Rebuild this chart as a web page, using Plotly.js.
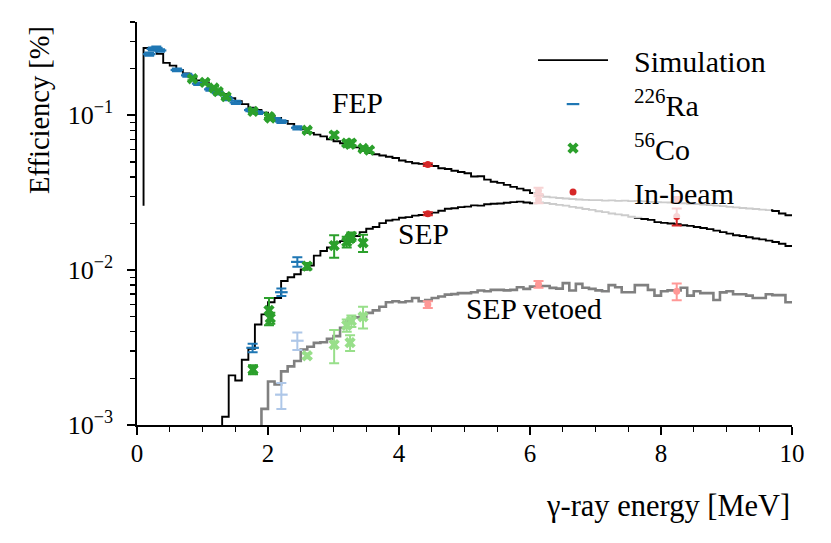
<!DOCTYPE html>
<html>
<head>
<meta charset="utf-8">
<script src="https://cdn.plot.ly/plotly-3.0.1.min.js"></script>
<style>
  html, body { margin: 0; padding: 0; background: #fff; }
  #chart { width: 831px; height: 543px; }
</style>
</head>
<body>
<div id="chart"></div>
<script>
// simulated histograms, 0.1 MeV bins, values in percent
const binWidth = 0.1;

const fepStart = 0.1;
const fepFloor = 0.026;
const simFep = [
  0.272, 0.272, 0.249, 0.218, 0.209, 0.196, 0.186, 0.176, 0.168, 0.161,
  0.152, 0.145, 0.137, 0.129, 0.123, 0.118, 0.112, 0.108, 0.104, 0.099,
  0.096, 0.092, 0.088, 0.084, 0.081, 0.077, 0.075, 0.073, 0.070, 0.068,
  0.066, 0.064, 0.062, 0.059, 0.057, 0.056, 0.055, 0.054, 0.053, 0.051,
  0.050, 0.049, 0.0485, 0.048, 0.047, 0.0455, 0.045, 0.0438, 0.0430, 0.0422,
  0.0402, 0.0404, 0.0384, 0.0372, 0.0366, 0.0355, 0.0345, 0.0336, 0.0328, 0.0315,
  0.0305, 0.0298, 0.0295, 0.0292, 0.0290, 0.0288, 0.0286, 0.0284, 0.0283, 0.0283,
  0.0281, 0.0282, 0.0280, 0.0281, 0.0279, 0.0280, 0.0278, 0.0276, 0.0275, 0.0274,
  0.0273, 0.0272, 0.0270, 0.0268, 0.0267, 0.0265, 0.0263, 0.0261, 0.0259, 0.0256,
  0.0254, 0.0252, 0.0250, 0.0248, 0.0246, 0.0244, 0.0241, 0.0232, 0.0226
];

const sepStart = 1.3;
const simSep = [
  0.00113, 0.00209, 0.00194, 0.00264, 0.0031, 0.00446, 0.00518,
  0.0062, 0.0066, 0.0085, 0.0090, 0.0094, 0.0101, 0.0107, 0.0124, 0.0133, 0.0140,
  0.0151, 0.0154, 0.0163, 0.0166, 0.0176, 0.0185, 0.0190, 0.0201, 0.0209, 0.0212,
  0.0218, 0.0220, 0.0225, 0.0227, 0.0231, 0.0235, 0.0242, 0.0249, 0.0251, 0.0255,
  0.0257, 0.0262, 0.0261, 0.0266, 0.0268, 0.0269, 0.0272, 0.0275, 0.0277, 0.0273,
  0.0270, 0.0273, 0.0271, 0.0267, 0.0264, 0.0261, 0.0256, 0.0253, 0.0248, 0.0245,
  0.0240, 0.0237, 0.0232, 0.0229, 0.0226, 0.0221, 0.0218, 0.0214, 0.0211, 0.0204,
  0.0202, 0.0200, 0.0198, 0.0195, 0.0193, 0.0190, 0.0187, 0.0184, 0.0180, 0.0176,
  0.0172, 0.0168, 0.0166, 0.0163, 0.0160, 0.0158, 0.0155, 0.0152, 0.0148, 0.0143
];

const vetoStart = 1.9;
const simSepVeto = [
  0.00127,
  0.00191, 0.00183, 0.00222, 0.00239, 0.00259, 0.00307, 0.00320, 0.00339, 0.00342, 0.00360,
  0.00375, 0.00425, 0.00469, 0.00495, 0.00500, 0.00530, 0.00550, 0.00580, 0.00620, 0.00630,
  0.00620, 0.00630, 0.00660, 0.00630, 0.00640, 0.00660, 0.00675, 0.00695, 0.00700, 0.00710,
  0.00710, 0.00720, 0.00738, 0.00730, 0.00745, 0.00745, 0.00740, 0.00745, 0.00776, 0.00757,
  0.00783, 0.00790, 0.00790, 0.00768, 0.00760, 0.00824, 0.00738, 0.00815, 0.00770, 0.00757,
  0.00740, 0.00730, 0.00800, 0.00776, 0.00720, 0.00720, 0.00800, 0.00800, 0.00745, 0.00684,
  0.00730, 0.00740, 0.00740, 0.00770, 0.00684, 0.00730, 0.00710, 0.00710, 0.00642, 0.00718,
  0.00730, 0.00698, 0.00698, 0.00684, 0.00660, 0.00660, 0.00698, 0.00690, 0.00690, 0.00620
];

// 226Ra source
const raFepE = [0.186, 0.242, 0.295, 0.352, 0.609, 0.768, 0.934, 1.120, 1.238, 1.378, 1.509, 1.730, 1.765, 1.847, 2.119, 2.204, 2.448];
const raFepEff = [0.248, 0.268, 0.272, 0.262, 0.196, 0.181, 0.160, 0.147, 0.139, 0.128, 0.121, 0.108, 0.107, 0.104, 0.094, 0.091, 0.083];
const raFepErr = [0.006, 0.006, 0.006, 0.005, 0.004, 0.004, 0.003, 0.003, 0.003, 0.003, 0.003, 0.002, 0.002, 0.002, 0.002, 0.002, 0.002];
const raSepE = [1.765, 2.204, 2.448];
const raSepEff = [0.00315, 0.0072, 0.0113];
const raSepErr = [0.0002, 0.0004, 0.0008];
const raVetoE = [2.204, 2.448];
const raVetoEff = [0.00157, 0.0035];
const raVetoErr = [0.0003, 0.00045];

// 56Co source
const coFepE = [0.847, 1.038, 1.175, 1.238, 1.360, 1.771, 2.015, 2.035, 2.598, 3.010, 3.202, 3.253, 3.273, 3.451, 3.548];
const coFepEff = [0.172, 0.163, 0.150, 0.142, 0.132, 0.106, 0.098, 0.096, 0.080, 0.0745, 0.066, 0.065, 0.066, 0.061, 0.0595];
const coFepErr = [0.004, 0.004, 0.003, 0.003, 0.003, 0.002, 0.002, 0.002, 0.002, 0.003, 0.002, 0.002, 0.002, 0.002, 0.002];
const coSepE = [1.771, 2.015, 2.035, 2.598, 3.010, 3.202, 3.253, 3.273, 3.451];
const coSepEff = [0.00228, 0.0055, 0.0049, 0.0106, 0.0144, 0.0152, 0.0160, 0.0165, 0.0150];
const coSepErr = [0.00015, 0.0011, 0.0004, 0.0005, 0.0024, 0.0012, 0.0008, 0.0010, 0.0019];
const coVetoE = [2.598, 3.010, 3.202, 3.253, 3.273, 3.451];
const coVetoEff = [0.0028, 0.0033, 0.0044, 0.0034, 0.0047, 0.0050];
const coVetoErr = [0.0001, 0.0008, 0.0004, 0.0004, 0.0004, 0.0008];

// in-beam lines
const beamE = [4.44, 6.13, 8.24];
const beamFepEff = [0.048, 0.0325, 0.0285];
const beamFepErr = [0.001, 0.0015, 0.0012];
const beamSepEff = [0.0231, 0.0285, 0.0222];
const beamSepErr = [0.0005, 0.0015, 0.0028];
const beamVetoEff = [0.0060, 0.0081, 0.0073];
const beamVetoErr = [0.0003, 0.0004, 0.0009];

const FONT = "'Liberation Serif', 'DejaVu Serif', serif";
const C = {
  blue: '#1f77b4', lblue: '#aec7e8',
  green: '#2ca02c', lgreen: '#98df8a',
  red: '#d62728', lred: '#ff9896'
};
// gap between legend handle and label
const GAP = '\u2002\u2009';

function stepTrace(start, values, floor, color, width, name, show) {
  const x = [], y = [];
  x.push(start); y.push(floor);
  values.forEach((v, i) => { x.push(start + i * binWidth); y.push(v); });
  x.push(start + values.length * binWidth); y.push(values[values.length - 1]);
  return {
    x, y, mode: 'lines', type: 'scatter',
    line: { shape: 'hv', color, width },
    name, showlegend: show, legendrank: 1, legendgroup: 'sim',
    hoverinfo: 'skip'
  };
}

function points(E, eff, err, color, symbol, size, name, show, rank) {
  const filled = symbol === 'circle' || symbol === 'x';
  return {
    x: E, y: eff, type: 'scatter', mode: 'markers',
    error_y: { type: 'data', array: err, color, thickness: 2, width: 5 },
    marker: {
      symbol, size, color,
      line: { color, width: filled ? 0 : 2.2 }
    },
    name, showlegend: show, legendrank: rank, legendgroup: 'g' + rank
  };
}

const traces = [
  stepTrace(fepStart, simFep, fepFloor, '#000', 1.9, GAP + 'Simulation', true),
  stepTrace(sepStart, simSep, 0.0005, '#000', 1.9, 'Simulation', false),
  stepTrace(vetoStart, simSepVeto, 0.0005, '#808080', 2.6, 'Simulation', false),

  points(raVetoE, raVetoEff, raVetoErr, C.lblue, 'line-ew-open', 9, 'ra', false, 2),
  points(coVetoE, coVetoEff, coVetoErr, C.lgreen, 'x', 10, 'co', false, 3),
  points(beamE, beamVetoEff, beamVetoErr, C.lred, 'circle', 7, 'beam', false, 4),

  points(raFepE, raFepEff, raFepErr, C.blue, 'line-ew-open', 9, GAP + '<sup>226</sup>Ra', true, 2),
  points(raSepE, raSepEff, raSepErr, C.blue, 'line-ew-open', 9, 'Ra', false, 2),
  points(coFepE, coFepEff, coFepErr, C.green, 'x', 10, GAP + '<sup>56</sup>Co', true, 3),
  points(coSepE, coSepEff, coSepErr, C.green, 'x', 10, 'Co', false, 3),
  points(beamE, beamFepEff, beamFepErr, C.red, 'circle', 7, GAP + 'In-beam', true, 4),
  points(beamE, beamSepEff, beamSepErr, C.red, 'circle', 7, 'In-beam', false, 4)
];

const yMajor = [0.001, 0.01, 0.1];
const yMajorText = ['10<sup>−3</sup>', '10<sup>−2</sup>', '10<sup>−1</sup>'];
const yMinor = [];
[0.001, 0.01, 0.1].forEach(d => {
  for (let k = 2; k <= 9; k++) if (d * k <= 0.4) yMinor.push(d * k);
});

const layout = {
  width: 831, height: 543,
  margin: { l: 137, r: 39, t: 22, b: 118 },
  paper_bgcolor: '#fff', plot_bgcolor: '#fff',
  font: { family: FONT, size: 24, color: '#000' },
  showlegend: true,
  xaxis: {
    range: [0, 10],
    showgrid: false, zeroline: false,
    showline: true, linecolor: '#000', linewidth: 1.8,
    ticks: 'outside', ticklen: 8, tickwidth: 1.8, tickcolor: '#000',
    tickmode: 'linear', tick0: 0, dtick: 2,
    minor: { ticks: 'outside', ticklen: 5, tickwidth: 1.3, tickcolor: '#000', dtick: 0.5 },
    tickfont: { family: FONT, size: 25 },
    ticklabelstandoff: -3
  },
  yaxis: {
    type: 'log',
    range: [-3, Math.log10(0.4)],
    showgrid: false, zeroline: false,
    showline: true, linecolor: '#000', linewidth: 1.8,
    ticks: 'outside', ticklen: 8, tickwidth: 1.8, tickcolor: '#000',
    tickmode: 'array', tickvals: yMajor, ticktext: yMajorText,
    minor: { ticks: 'outside', ticklen: 5, tickwidth: 1.3, tickcolor: '#000', tickmode: 'array', tickvals: yMinor },
    tickfont: { family: FONT, size: 26 },
    ticklabelstandoff: 9
  },
  legend: {
    x: 0.6046, y: 0.97, xanchor: 'left', yanchor: 'top',
    bgcolor: 'rgba(255,255,255,0.8)', borderwidth: 0,
    font: { family: FONT, size: 30 },
    itemwidth: 70, tracegroupgap: 2, traceorder: 'grouped'
  },
  annotations: [
    { xref: 'paper', yref: 'paper', x: 1, y: -0.2, xanchor: 'right', yanchor: 'middle',
      text: 'γ-ray energy [MeV]', showarrow: false, font: { family: FONT, size: 30.5 } },
    { xref: 'paper', yref: 'paper', x: -0.148, y: 0.782, xanchor: 'center', yanchor: 'middle',
      text: 'Efficiency [%]', textangle: -90, showarrow: false, font: { family: FONT, size: 28.5 } },
    { x: 3.37, y: -0.922, text: 'FEP', showarrow: false, font: { family: FONT, size: 29.5 } },
    { x: 4.37, y: -1.766, text: 'SEP', showarrow: false, font: { family: FONT, size: 29.5 } },
    { x: 6.06, y: -2.253, text: 'SEP vetoed', showarrow: false, font: { family: FONT, size: 29.5 } }
  ]
};

Plotly.newPlot('chart', traces, layout, { displayModeBar: false, staticPlot: true });
</script>
</body>
</html>
